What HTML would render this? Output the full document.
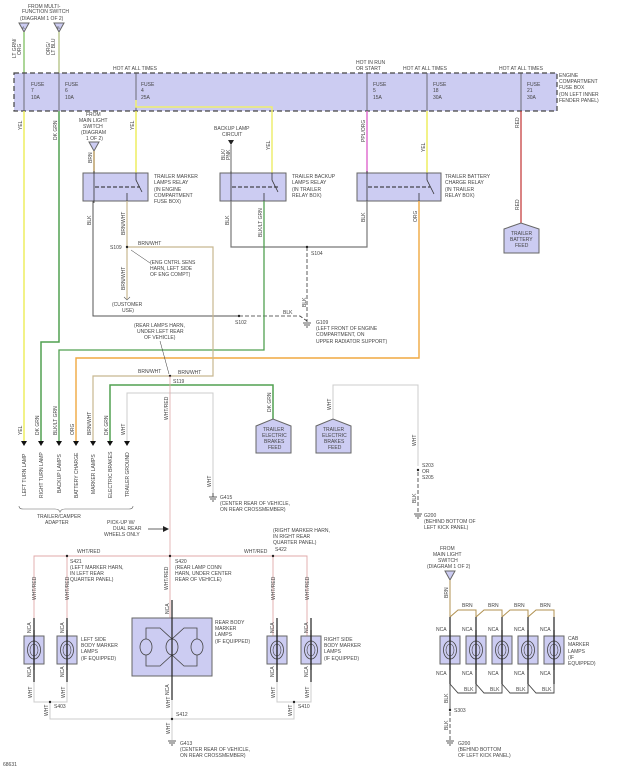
<!DOCTYPE html>
<html><head><meta charset="utf-8"><style>
html,body{margin:0;padding:0;background:#fff;}
svg{display:block;}
text{font-family:"Liberation Sans",sans-serif;font-size:5px;fill:#444;}
.lav{fill:#ccccf2;stroke:#666;stroke-width:1;}
</style></head><body>
<svg width="619" height="768" viewBox="0 0 619 768" xmlns="http://www.w3.org/2000/svg">
<defs>
<g id="lamp">
<rect x="-10" y="-14" width="20" height="28" class="lav"/>
<ellipse cx="0" cy="0" rx="6.5" ry="9" fill="none" stroke="#444" stroke-width="0.8"/>
<ellipse cx="0" cy="0" rx="4" ry="6" fill="none" stroke="#444" stroke-width="0.6"/>
<line x1="0" y1="-20" x2="0" y2="20" stroke="#222" stroke-width="1.2"/>
</g>
<g id="relay">
<line x1="0" y1="-3" x2="0" y2="3" stroke="#333"/>
</g>
</defs>

<!-- connectors top -->
<text x="28" y="8">FROM MULTI-</text>
<text x="22" y="13">FUNCTION SWITCH</text>
<text x="20" y="20">(DIAGRAM 1 OF 2)</text>
<polygon points="19,23 29,23 24,32" class="lav"/>
<polygon points="54,23 64,23 59,32" class="lav"/>
<text x="22" y="29" style="font-size:4px">A</text>
<text x="57" y="29" style="font-size:4px">B</text>
<text transform="translate(16,58) rotate(-90)">LT GRN/</text>
<text transform="translate(21,55) rotate(-90)">ORG</text>
<text transform="translate(50,55) rotate(-90)">ORG/</text>
<text transform="translate(55,55) rotate(-90)">LT BLU</text>

<!-- wires above box -->
<line x1="24" y1="32" x2="24" y2="73" stroke="#80c060" stroke-width="1.3"/>
<line x1="59" y1="32" x2="59" y2="73" stroke="#b0c080" stroke-width="1.3"/>

<!-- fuse box -->
<rect x="14" y="73" width="543" height="38" fill="#ccccf2" stroke="#444" stroke-width="1.2" stroke-dasharray="5,3"/>
<text x="113" y="70">HOT AT ALL TIMES</text>
<text x="356" y="64">HOT IN RUN</text>
<text x="356" y="70">OR START</text>
<text x="403" y="70">HOT AT ALL TIMES</text>
<text x="499" y="70">HOT AT ALL TIMES</text>
<text x="559" y="77">ENGINE</text>
<text x="559" y="83">COMPARTMENT</text>
<text x="559" y="89">FUSE BOX</text>
<text x="559" y="96">(ON LEFT INNER</text>
<text x="559" y="102">FENDER PANEL)</text>
<g stroke="#555" stroke-width="0.8" fill="none">
<line x1="24" y1="73" x2="24" y2="111"/><line x1="59" y1="73" x2="59" y2="111"/>
<line x1="136" y1="73" x2="136" y2="111"/><line x1="367" y1="73" x2="367" y2="111"/>
<line x1="427" y1="73" x2="427" y2="111"/><line x1="521" y1="73" x2="521" y2="111"/>
</g>
<g>
<text x="31" y="86">FUSE</text><text x="31" y="92">7</text><text x="31" y="99">10A</text>
<text x="65" y="86">FUSE</text><text x="65" y="92">6</text><text x="65" y="99">10A</text>
<text x="141" y="86">FUSE</text><text x="141" y="92">4</text><text x="141" y="99">25A</text>
<text x="373" y="86">FUSE</text><text x="373" y="92">5</text><text x="373" y="99">15A</text>
<text x="433" y="86">FUSE</text><text x="433" y="92">18</text><text x="433" y="99">30A</text>
<text x="527" y="86">FUSE</text><text x="527" y="92">21</text><text x="527" y="99">30A</text>
</g>
<!-- fuse4 jog -->
<polyline points="136,100 136,107 272,107 272,173" fill="none" stroke="#eeee70" stroke-width="1.5"/>

<!-- wires below box -->
<line x1="24" y1="111" x2="24" y2="441" stroke="#eeee60" stroke-width="1.5"/>
<polyline points="59,111 59,342 41,342 41,441" fill="none" stroke="#50a050" stroke-width="1.5"/>
<line x1="136" y1="111" x2="136" y2="173" stroke="#eeee60" stroke-width="1.5"/>
<line x1="367" y1="111" x2="367" y2="173" stroke="#e070d0" stroke-width="1.5"/>
<line x1="427" y1="111" x2="427" y2="173" stroke="#eeee60" stroke-width="1.5"/>
<line x1="521" y1="111" x2="521" y2="223" stroke="#c03030" stroke-width="1.2"/>
<text transform="translate(22,130) rotate(-90)">YEL</text>
<text transform="translate(57,140) rotate(-90)">DK GRN</text>
<text transform="translate(134,130) rotate(-90)">YEL</text>
<text transform="translate(270,150) rotate(-90)">YEL</text>
<text transform="translate(365,142) rotate(-90)">PPL/ORG</text>
<text transform="translate(425,152) rotate(-90)">YEL</text>
<text transform="translate(519,128) rotate(-90)">RED</text>
<text transform="translate(519,210) rotate(-90)">RED</text>

<!-- battery feed -->
<polygon points="504,229 521,223 539,229 539,253 504,253" class="lav"/>
<text x="511" y="235">TRAILER</text><text x="510" y="241">BATTERY</text><text x="515" y="247">FEED</text>

<!-- main light switch -->
<text x="86" y="116">FROM</text><text x="79" y="122">MAIN LIGHT</text><text x="83" y="128">SWITCH</text><text x="81" y="134">(DIAGRAM</text><text x="86" y="140">1 OF 2)</text>
<polygon points="89,142 99,142 94,151" class="lav"/>
<line x1="94" y1="151" x2="94" y2="173" stroke="#b09050" stroke-width="1.3"/>
<text transform="translate(92,163) rotate(-90)">BRN</text>

<!-- backup lamp circuit -->
<text x="214" y="130">BACKUP LAMP</text><text x="222" y="136">CIRCUIT</text>
<polygon points="228,140 234,140 231,145" fill="#222"/>
<line x1="231" y1="145" x2="231" y2="173" stroke="#666"/>
<text transform="translate(225,160) rotate(-90)">BLK/</text>
<text transform="translate(230,160) rotate(-90)">PNK</text>

<!-- relays -->
<g>
<rect x="83" y="173" width="65" height="28" class="lav"/>
<line x1="94" y1="171" x2="94" y2="203" stroke="#333" stroke-width="0.8"/>
<line x1="95" y1="187" x2="140" y2="187" stroke="#222" stroke-width="1" stroke-dasharray="4,2"/>
<polyline points="136,173 136,180 142,192" fill="none" stroke="#333" stroke-width="0.8"/>
<line x1="127" y1="193" x2="127" y2="203" stroke="#333" stroke-width="0.8"/>
<text x="154" y="178">TRAILER MARKER</text><text x="154" y="184">LAMPS RELAY</text><text x="154" y="191">(IN ENGINE</text><text x="154" y="197">COMPARTMENT</text><text x="154" y="203">FUSE BOX)</text>
</g>
<g>
<rect x="220" y="173" width="66" height="28" class="lav"/>
<line x1="231" y1="171" x2="231" y2="203" stroke="#333" stroke-width="0.8"/>
<line x1="232" y1="187" x2="278" y2="187" stroke="#222" stroke-width="1" stroke-dasharray="4,2"/>
<polyline points="272,173 272,180 278,192" fill="none" stroke="#333" stroke-width="0.8"/>
<line x1="264" y1="193" x2="264" y2="203" stroke="#333" stroke-width="0.8"/>
<text x="292" y="178">TRAILER BACKUP</text><text x="292" y="184">LAMPS RELAY</text><text x="292" y="191">(IN TRAILER</text><text x="292" y="197">RELAY BOX)</text>
</g>
<g>
<rect x="357" y="173" width="84" height="28" class="lav"/>
<line x1="367" y1="171" x2="367" y2="203" stroke="#333" stroke-width="0.8"/>
<line x1="368" y1="187" x2="430" y2="187" stroke="#222" stroke-width="1" stroke-dasharray="4,2"/>
<polyline points="427,173 427,180 434,194" fill="none" stroke="#333" stroke-width="0.8"/>
<line x1="419" y1="193" x2="419" y2="203" stroke="#333" stroke-width="0.8"/>
<text x="445" y="178">TRAILER BATTERY</text><text x="445" y="184">CHARGE RELAY</text><text x="445" y="191">(IN TRAILER</text><text x="445" y="197">RELAY BOX)</text>
</g>

<!-- below relays -->
<polyline points="93,201 93,316 239,316" fill="none" stroke="#555" stroke-width="1"/>
<polyline points="239,316 300,316 307,321" fill="none" stroke="#333" stroke-width="0.8" stroke-dasharray="4,2"/>
<polyline points="231,201 231,247 367,247 367,201" fill="none" stroke="#777" stroke-width="1.2"/>
<line x1="307" y1="247" x2="307" y2="322" stroke="#333" stroke-width="0.8" stroke-dasharray="4,2"/>
<circle cx="307" cy="247" r="1.2" fill="#222"/><circle cx="239" cy="316" r="1.2" fill="#222"/>
<text x="311" y="255">S104</text><text x="235" y="324">S102</text><text x="283" y="314">BLK</text>
<text transform="translate(306,307) rotate(-90)">BLK</text>
<g stroke="#333" stroke-width="0.8"><line x1="303" y1="323" x2="311" y2="323"/><line x1="304" y1="325" x2="310" y2="325"/><line x1="306" y1="327" x2="308" y2="327"/></g>
<text x="316" y="324">G109</text><text x="316" y="330">(LEFT FRONT OF ENGINE</text><text x="316" y="336">COMPARTMENT, ON</text><text x="316" y="343">UPPER RADIATOR SUPPORT)</text>
<text transform="translate(91,225) rotate(-90)">BLK</text>
<text transform="translate(229,225) rotate(-90)">BLK</text>
<text transform="translate(365,222) rotate(-90)">BLK</text>
<text transform="translate(125,235) rotate(-90)">BRN/WHT</text>
<text transform="translate(262,237) rotate(-90)">BLK/LT GRN</text>
<text transform="translate(417,222) rotate(-90)">ORG</text>

<polyline points="264,201 264,350 59,350 59,441" fill="none" stroke="#50a050" stroke-width="1.3"/>
<polyline points="419,201 419,358 76,358 76,441" fill="none" stroke="#f0a840" stroke-width="1.4"/>
<line x1="127" y1="201" x2="127" y2="299" stroke="#c8b890" stroke-width="1.2"/>
<polyline points="127,247 213,247 213,376 170,376 93,376 93,441" fill="none" stroke="#c8b890" stroke-width="1.2"/>
<circle cx="127" cy="247" r="1.2" fill="#222"/>
<text x="110" y="249">S109</text><text x="138" y="245">BRN/WHT</text>
<polyline points="124,297 127,300 130,297" fill="none" stroke="#555" stroke-width="0.6"/>
<text transform="translate(125,290) rotate(-90)">BRN/WHT</text>
<text x="112" y="306">(CUSTOMER</text><text x="122" y="312">USE)</text>
<line x1="150" y1="263" x2="131" y2="250" stroke="#333" stroke-width="0.5"/>
<text x="150" y="264">(ENG CNTRL SENS</text><text x="150" y="270">HARN, LEFT SIDE</text><text x="150" y="276">OF ENG COMPT)</text>
<text x="134" y="327">(REAR LAMPS HARN,</text><text x="137" y="333">UNDER LEFT REAR</text><text x="144" y="339">OF VEHICLE)</text>
<line x1="160" y1="341" x2="169" y2="374" stroke="#333" stroke-width="0.5"/>
<circle cx="170" cy="376" r="1.2" fill="#222"/>
<text x="138" y="373">BRN/WHT</text><text x="178" y="374">BRN/WHT</text><text x="173" y="383">S119</text>

<!-- adapter wires -->
<polyline points="110,441 110,385 273,385 273,419" fill="none" stroke="#50a050" stroke-width="1.5"/>
<polyline points="127,441 127,393 213,393 213,496" fill="none" stroke="#ccc" stroke-width="1"/>
<line x1="170" y1="376" x2="170" y2="556" stroke="#e0a8a8" stroke-width="0.8"/>
<text transform="translate(168,420) rotate(-90)">WHT/RED</text>
<g fill="#111">
<polygon points="21,441 27,441 24,446"/><polygon points="38,441 44,441 41,446"/><polygon points="56,441 62,441 59,446"/><polygon points="73,441 79,441 76,446"/><polygon points="90,441 96,441 93,446"/><polygon points="107,441 113,441 110,446"/><polygon points="124,441 130,441 127,446"/>
</g>
<text transform="translate(22,435) rotate(-90)">YEL</text>
<text transform="translate(39,435) rotate(-90)">DK GRN</text>
<text transform="translate(57,435) rotate(-90)">BLK/LT GRN</text>
<text transform="translate(74,435) rotate(-90)">ORG</text>
<text transform="translate(91,435) rotate(-90)">BRN/WHT</text>
<text transform="translate(108,435) rotate(-90)">DK GRN</text>
<text transform="translate(125,435) rotate(-90)">WHT</text>
<text transform="translate(26,496) rotate(-90)">LEFT TURN LAMP</text>
<text transform="translate(43,498) rotate(-90)">RIGHT TURN LAMP</text>
<text transform="translate(61,493) rotate(-90)">BACKUP LAMPS</text>
<text transform="translate(78,498) rotate(-90)">BATTERY CHARGE</text>
<text transform="translate(95,494) rotate(-90)">MARKER LAMPS</text>
<text transform="translate(112,498) rotate(-90)">ELECTRIC BRAKES</text>
<text transform="translate(129,497) rotate(-90)">TRAILER GROUND</text>
<path d="M19,506 q0,3 4,3 h32 q4,0 5,3 q1,-3 5,-3 h64 q4,0 4,-3" fill="none" stroke="#666" stroke-width="0.6"/>
<text x="37" y="518">TRAILER/CAMPER</text><text x="45" y="524">ADAPTER</text>
<text x="107" y="524">PICK-UP W/</text><text x="113" y="530">DUAL REAR</text><text x="104" y="536">WHEELS ONLY</text>
<line x1="148" y1="529" x2="164" y2="529" stroke="#222" stroke-width="0.7"/>
<polygon points="163,526 169,529 163,532" fill="#222"/>

<!-- electric brakes feeds -->
<polygon points="256,426 273,419 291,426 291,453 256,453" class="lav"/>
<text x="263" y="431">TRAILER</text><text x="262" y="437">ELECTRIC</text><text x="264" y="443">BRAKES</text><text x="268" y="449">FEED</text>
<text transform="translate(271,412) rotate(-90)">DK GRN</text>
<polyline points="333,419 333,385 418,385 418,466" fill="none" stroke="#ccc" stroke-width="1"/>
<polygon points="316,426 333,419 351,426 351,453 316,453" class="lav"/>
<text x="323" y="431">TRAILER</text><text x="322" y="437">ELECTRIC</text><text x="324" y="443">BRAKES</text><text x="328" y="449">FEED</text>
<text transform="translate(331,410) rotate(-90)">WHT</text>
<text transform="translate(416,446) rotate(-90)">WHT</text>
<text transform="translate(211,487) rotate(-90)">WHT</text>
<circle cx="418" cy="470" r="1.2" fill="#222"/>
<text x="422" y="467">S203</text><text x="422" y="473">OR</text><text x="422" y="479">S205</text>
<line x1="418" y1="472" x2="418" y2="512" stroke="#333" stroke-width="0.8" stroke-dasharray="4,2"/>
<text transform="translate(416,503) rotate(-90)">BLK</text>
<g stroke="#333" stroke-width="0.8"><line x1="414" y1="514" x2="422" y2="514"/><line x1="415" y1="516" x2="421" y2="516"/><line x1="417" y1="518" x2="419" y2="518"/></g>
<text x="424" y="517">G200</text><text x="424" y="523">(BEHIND BOTTOM OF</text><text x="424" y="529">LEFT KICK PANEL)</text>
<g stroke="#333" stroke-width="0.8"><line x1="209" y1="497" x2="217" y2="497"/><line x1="210" y1="499" x2="216" y2="499"/><line x1="212" y1="501" x2="214" y2="501"/><line x1="213" y1="493" x2="213" y2="497"/></g>
<text x="220" y="499">G415</text><text x="220" y="505">(CENTER REAR OF VEHICLE,</text><text x="220" y="511">ON REAR CROSSMEMBER)</text>

<!-- rear marker section -->
<polyline points="34,636 34,556 307,556 307,636" fill="none" stroke="#e0a8a8" stroke-width="0.9"/>
<line x1="67" y1="556" x2="67" y2="636" stroke="#e0a8a8" stroke-width="0.9"/>
<line x1="273" y1="556" x2="273" y2="636" stroke="#e0a8a8" stroke-width="0.9"/>
<line x1="170" y1="556" x2="170" y2="618" stroke="#e0a8a8" stroke-width="0.9"/>
<circle cx="67" cy="556" r="1.2" fill="#222"/><circle cx="170" cy="556" r="1.2" fill="#222"/><circle cx="273" cy="556" r="1.2" fill="#222"/>
<text x="77" y="553">WHT/RED</text><text x="244" y="553">WHT/RED</text>
<text x="70" y="563">S421</text><text x="70" y="569">(LEFT MARKER HARN,</text><text x="70" y="575">IN LEFT REAR</text><text x="70" y="581">QUARTER PANEL)</text>
<text x="175" y="563">S420</text><text x="175" y="569">(REAR LAMP CONN</text><text x="175" y="575">HARN, UNDER CENTER</text><text x="175" y="581">REAR OF VEHICLE)</text>
<text x="273" y="532">(RIGHT MARKER HARN,</text><text x="273" y="538">IN RIGHT REAR</text><text x="273" y="544">QUARTER PANEL)</text><text x="275" y="551">S422</text>
<text transform="translate(36,600) rotate(-90)">WHT/RED</text>
<text transform="translate(69,600) rotate(-90)">WHT/RED</text>
<text transform="translate(168,590) rotate(-90)">WHT/RED</text>
<text transform="translate(275,600) rotate(-90)">WHT/RED</text>
<text transform="translate(309,600) rotate(-90)">WHT/RED</text>

<use href="#lamp" x="34" y="650"/><use href="#lamp" x="67" y="650"/>
<use href="#lamp" x="277" y="650"/><use href="#lamp" x="311" y="650"/>
<g stroke="#222" stroke-width="1.2"><line x1="34" y1="618" x2="34" y2="682"/><line x1="67" y1="618" x2="67" y2="682"/><line x1="277" y1="618" x2="277" y2="682"/><line x1="311" y1="618" x2="311" y2="682"/></g>
<text transform="translate(31,633) rotate(-90)">NCA</text><text transform="translate(64,633) rotate(-90)">NCA</text>
<text transform="translate(274,633) rotate(-90)">NCA</text><text transform="translate(308,633) rotate(-90)">NCA</text>
<text transform="translate(31,677) rotate(-90)">NCA</text><text transform="translate(64,677) rotate(-90)">NCA</text>
<text transform="translate(274,677) rotate(-90)">NCA</text><text transform="translate(308,677) rotate(-90)">NCA</text>
<text x="81" y="641">LEFT SIDE</text><text x="81" y="647">BODY MARKER</text><text x="81" y="653">LAMPS</text><text x="81" y="660">(IF EQUIPPED)</text>
<text x="324" y="641">RIGHT SIDE</text><text x="324" y="647">BODY MARKER</text><text x="324" y="653">LAMPS</text><text x="324" y="660">(IF EQUIPPED)</text>

<rect x="132" y="618" width="80" height="58" class="lav"/>
<g fill="none" stroke="#444" stroke-width="0.8">
<ellipse cx="146" cy="647" rx="6" ry="8"/><ellipse cx="172" cy="647" rx="6" ry="8"/><ellipse cx="197" cy="647" rx="6" ry="8"/>
<polyline points="146,639 146,628 160,628 172,639"/><polyline points="197,639 197,628 184,628 172,639"/>
<polyline points="146,655 146,666 160,666 172,655"/><polyline points="197,655 197,666 184,666 172,655"/>
</g>
<line x1="172" y1="600" x2="172" y2="700" stroke="#222" stroke-width="1.2"/>
<text transform="translate(169,614) rotate(-90)">NCA</text><text transform="translate(169,695) rotate(-90)">NCA</text>
<text x="215" y="624">REAR BODY</text><text x="215" y="630">MARKER</text><text x="215" y="636">LAMPS</text><text x="215" y="643">(IF EQUIPPED)</text>

<g fill="none" stroke="#ccc" stroke-width="1">
<polyline points="34,682 34,702 67,702 67,682"/><polyline points="277,682 277,702 311,702 311,682"/>
<polyline points="50,702 50,719 294,719 294,702"/><line x1="172" y1="700" x2="172" y2="740"/>
</g>
<circle cx="50" cy="702" r="1.2" fill="#222"/><circle cx="294" cy="702" r="1.2" fill="#222"/><circle cx="172" cy="719" r="1.2" fill="#222"/>
<text x="54" y="708">S403</text><text x="298" y="708">S410</text><text x="176" y="716">S412</text>
<text transform="translate(32,698) rotate(-90)">WHT</text><text transform="translate(65,698) rotate(-90)">WHT</text>
<text transform="translate(275,698) rotate(-90)">WHT</text><text transform="translate(309,698) rotate(-90)">WHT</text>
<text transform="translate(48,716) rotate(-90)">WHT</text><text transform="translate(292,716) rotate(-90)">WHT</text>
<text transform="translate(170,708) rotate(-90)">WHT</text><text transform="translate(170,734) rotate(-90)">WHT</text>
<g stroke="#333" stroke-width="0.8"><line x1="168" y1="741" x2="176" y2="741"/><line x1="169" y1="743" x2="175" y2="743"/><line x1="171" y1="745" x2="173" y2="745"/></g>
<text x="180" y="745">G413</text><text x="180" y="751">(CENTER REAR OF VEHICLE,</text><text x="180" y="757">ON REAR CROSSMEMBER)</text>
<text x="3" y="766">68631</text>

<!-- cab marker -->
<text x="440" y="550">FROM</text><text x="433" y="556">MAIN LIGHT</text><text x="438" y="562">SWITCH</text><text x="427" y="568">(DIAGRAM 1 OF 2)</text>
<polygon points="445,571 455,571 450,580" class="lav"/>
<polyline points="450,580 450,617" fill="none" stroke="#b09050" stroke-width="1"/>
<text transform="translate(448,598) rotate(-90)">BRN</text>
<g fill="none" stroke="#b09050" stroke-width="1">
<polyline points="450,617 458,610 476,610 476,617"/>
<polyline points="476,617 484,610 502,610 502,617"/>
<polyline points="502,617 510,610 528,610 528,617"/>
<polyline points="528,617 536,610 554,610 554,617"/>
</g>
<text x="462" y="607">BRN</text><text x="488" y="607">BRN</text><text x="514" y="607">BRN</text><text x="540" y="607">BRN</text>
<use href="#lamp" x="450" y="650"/><use href="#lamp" x="476" y="650"/><use href="#lamp" x="502" y="650"/><use href="#lamp" x="528" y="650"/><use href="#lamp" x="554" y="650"/>
<g stroke="#222" stroke-width="1.2"><line x1="450" y1="617" x2="450" y2="684"/><line x1="476" y1="617" x2="476" y2="684"/><line x1="502" y1="617" x2="502" y2="684"/><line x1="528" y1="617" x2="528" y2="684"/><line x1="554" y1="617" x2="554" y2="684"/></g>
<text x="436" y="631">NCA</text><text x="462" y="631">NCA</text><text x="488" y="631">NCA</text><text x="514" y="631">NCA</text><text x="540" y="631">NCA</text>
<text x="436" y="675">NCA</text><text x="462" y="675">NCA</text><text x="488" y="675">NCA</text><text x="514" y="675">NCA</text><text x="540" y="675">NCA</text>
<text x="568" y="640">CAB</text><text x="568" y="646">MARKER</text><text x="568" y="653">LAMPS</text><text x="568" y="659">(IF</text><text x="568" y="665">EQUIPPED)</text>
<g fill="none" stroke="#444" stroke-width="0.9">
<polyline points="450,684 458,693 476,693 476,684"/>
<polyline points="476,684 484,693 502,693 502,684"/>
<polyline points="502,684 510,693 528,693 528,684"/>
<polyline points="528,684 536,693 554,693 554,684"/>
<line x1="450" y1="684" x2="450" y2="710"/>
</g>
<text x="464" y="691">BLK</text><text x="490" y="691">BLK</text><text x="516" y="691">BLK</text><text x="542" y="691">BLK</text>
<text transform="translate(448,703) rotate(-90)">BLK</text>
<circle cx="450" cy="710" r="1.2" fill="#222"/><text x="454" y="712">S303</text>
<line x1="450" y1="712" x2="450" y2="740" stroke="#333" stroke-width="0.8" stroke-dasharray="4,2"/>
<text transform="translate(448,730) rotate(-90)">BLK</text>
<g stroke="#333" stroke-width="0.8"><line x1="446" y1="741" x2="454" y2="741"/><line x1="447" y1="743" x2="453" y2="743"/><line x1="449" y1="745" x2="451" y2="745"/></g>
<text x="458" y="745">G200</text><text x="458" y="751">(BEHIND BOTTOM</text><text x="458" y="757">OF LEFT KICK PANEL)</text>
</svg>
</body></html>
